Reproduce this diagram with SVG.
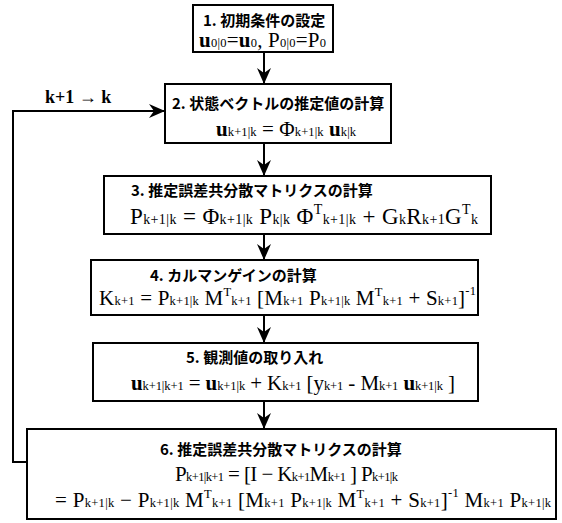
<svg xmlns="http://www.w3.org/2000/svg" width="562" height="523" viewBox="0 0 562 523">
<style>
.box{fill:#fff;stroke:#000;stroke-width:2}
.t{font-family:"Noto Sans CJK JP","Noto Sans",sans-serif;font-weight:bold;font-size:15px;fill:#000}
.f{font-family:"Liberation Serif",serif;font-size:21px;fill:#000}
.f.lg{font-size:23px}
.s{font-size:12.5px}
.lg .s{font-size:14px}
.b{font-weight:bold}
.lbl{font-family:"Liberation Serif",serif;font-weight:bold;font-size:18px}
.ln{fill:none;stroke:#000;stroke-width:2}
</style>
<defs>
<marker id="ah" markerUnits="userSpaceOnUse" markerWidth="20" markerHeight="16" refX="16" refY="8" orient="auto">
<path d="M16,8 L0,1 L5,8 L0,15 Z" fill="#000"/>
</marker>
</defs>
<rect width="562" height="523" fill="#fff"/>
<g id="connectors">
<line class="ln" x1="264" y1="52" x2="264" y2="84" marker-end="url(#ah)"/>
<line class="ln" x1="264" y1="143" x2="264" y2="176" marker-end="url(#ah)"/>
<line class="ln" x1="264" y1="234" x2="264" y2="260" marker-end="url(#ah)"/>
<line class="ln" x1="264" y1="315" x2="264" y2="343" marker-end="url(#ah)"/>
<line class="ln" x1="264" y1="401" x2="264" y2="429" marker-end="url(#ah)"/>
<polyline class="ln" points="27,462 13,462 13,111 165,111" marker-end="url(#ah)"/>
<text class="lbl" x="45" y="103">k+1 → k</text>
</g>
<g id="n1">
<rect class="box" x="193" y="5" width="140" height="47"/>
<text class="t" x="203" y="26">1. 初期条件の設定</text>
<text class="f" x="199" y="47" textLength="127" lengthAdjust="spacing"><tspan class="b">u</tspan><tspan class="s">0|0</tspan>=<tspan class="b">u</tspan><tspan class="s">0</tspan>,  P<tspan class="s">0|0</tspan>=P<tspan class="s">0</tspan></text>
</g>
<g id="n2">
<rect class="box" x="165" y="84" width="226" height="59"/>
<text class="t" x="172" y="109">2. 状態ベクトルの推定値の計算</text>
<text class="f" x="216" y="136" textLength="140" lengthAdjust="spacing"><tspan class="b">u</tspan><tspan class="s">k+1|k</tspan> = Φ<tspan class="s">k+1|k</tspan> <tspan class="b">u</tspan><tspan class="s">k|k</tspan></text>
</g>
<g id="n3">
<rect class="box" x="104" y="176" width="387" height="58"/>
<text class="t" x="131" y="196">3. 推定誤差共分散マトリクスの計算</text>
<text class="f lg" x="130" y="224" textLength="348" lengthAdjust="spacing">P<tspan class="s">k+1|k</tspan> = Φ<tspan class="s">k+1|k</tspan> P<tspan class="s">k|k</tspan> Φ<tspan class="s" dy="-10">T</tspan><tspan class="s" dy="10">k+1|k</tspan> + G<tspan class="s">k</tspan>R<tspan class="s">k+1</tspan>G<tspan class="s" dy="-10">T</tspan><tspan class="s" dy="10">k</tspan></text>
</g>
<g id="n4">
<rect class="box" x="91" y="260" width="387" height="55"/>
<text class="t" x="150" y="281">4. カルマンゲインの計算</text>
<text class="f" x="99" y="305" textLength="377" lengthAdjust="spacing">K<tspan class="s">k+1</tspan> = P<tspan class="s">k+1|k</tspan> M<tspan class="s" dy="-9">T</tspan><tspan class="s" dy="9">k+1</tspan> [M<tspan class="s">k+1</tspan> P<tspan class="s">k+1|k</tspan> M<tspan class="s" dy="-9">T</tspan><tspan class="s" dy="9">k+1</tspan> + S<tspan class="s">k+1</tspan>]<tspan class="s" dy="-10">-1</tspan></text>
</g>
<g id="n5">
<rect class="box" x="93" y="343" width="385" height="58"/>
<text class="t" x="186" y="363">5. 観測値の取り入れ</text>
<text class="f" x="131" y="390" textLength="324" lengthAdjust="spacing"><tspan class="b">u</tspan><tspan class="s">k+1|k+1</tspan> = <tspan class="b">u</tspan><tspan class="s">k+1|k</tspan> + K<tspan class="s">k+1</tspan>  [y<tspan class="s">k+1</tspan> - M<tspan class="s">k+1</tspan> <tspan class="b">u</tspan><tspan class="s">k+1|k</tspan> ]</text>
</g>
<g id="n6">
<rect class="box" x="27" y="429" width="529" height="90"/>
<text class="t" x="160" y="455">6. 推定誤差共分散マトリクスの計算</text>
<text class="f" x="175" y="481" textLength="223" lengthAdjust="spacing">P<tspan class="s">k+1|k+1</tspan> = [I − K<tspan class="s">k+1</tspan>M<tspan class="s">k+1</tspan> ] P<tspan class="s">k+1|k</tspan></text>
<text class="f" x="55" y="507" textLength="496" lengthAdjust="spacing">= P<tspan class="s">k+1|k</tspan> − P<tspan class="s">k+1|k</tspan> M<tspan class="s" dy="-9">T</tspan><tspan class="s" dy="9">k+1</tspan> [M<tspan class="s">k+1</tspan> P<tspan class="s">k+1|k</tspan> M<tspan class="s" dy="-9">T</tspan><tspan class="s" dy="9">k+1</tspan> + S<tspan class="s">k+1</tspan>]<tspan class="s" dy="-10">-1</tspan><tspan dy="10"> M</tspan><tspan class="s">k+1</tspan> P<tspan class="s">k+1|k</tspan></text>
</g>
</svg>
